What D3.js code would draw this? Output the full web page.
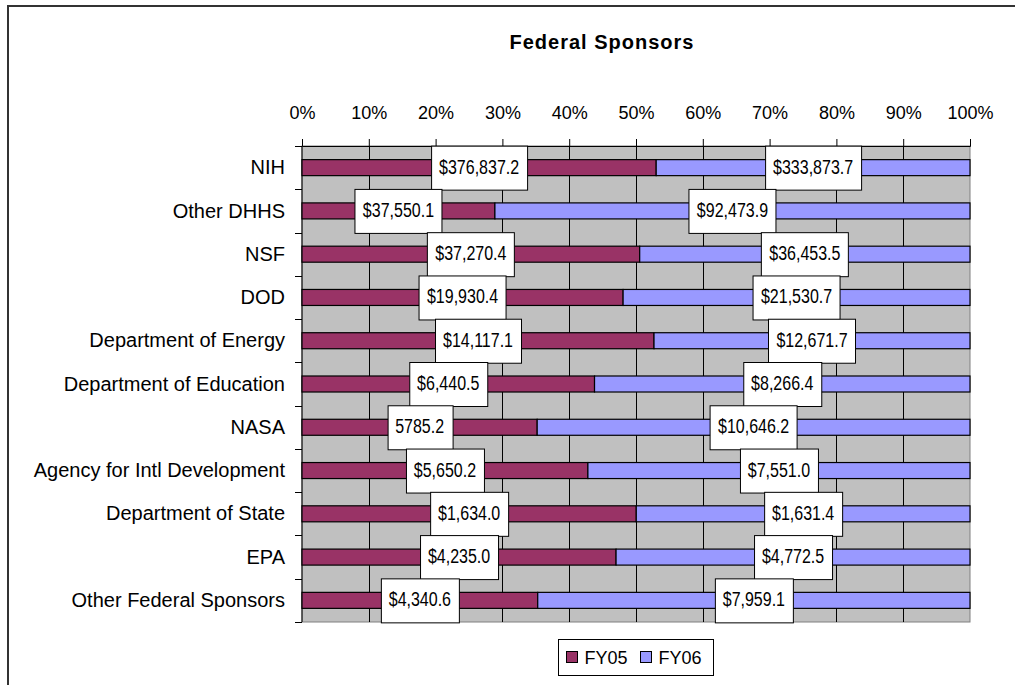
<!DOCTYPE html>
<html>
<head>
<meta charset="utf-8">
<script src="https://cdn.jsdelivr.net/npm/d3@7"></script>
<style>
  body { margin: 0; background: #fff; }
  svg { display: block; }
</style>
</head>
<body>
<div id="chart"></div>
<script>
// sponsors, top to bottom
var sponsors = ["NIH", "Other DHHS", "NSF", "DOD", "Department of Energy",
  "Department of Education", "NASA", "Agency for Intl Development",
  "Department of State", "EPA", "Other Federal Sponsors"];

// dollar amounts (thousands) per year
var fy05 = [376837.2, 37550.1, 37270.4, 19930.4, 14117.1, 6440.5, 5785.2, 5650.2, 1634.0, 4235.0, 4340.6];
var fy06 = [333873.7, 92473.9, 36453.5, 21530.7, 12671.7, 8266.4, 10646.2, 7551.0, 1631.4, 4772.5, 7959.1];

var seriesNames = ["FY05", "FY06"];
var tickValues = [0, 0.1, 0.2, 0.3, 0.4, 0.5, 0.6, 0.7, 0.8, 0.9, 1];

var W = 1015, H = 685;
var plot = { left: 302, right: 970, top: 146, bottom: 622 };
var colors = { FY05: "#993366", FY06: "#9999ff" };
var sans = "'Liberation Sans', Arial, sans-serif";

var svg = d3.select("#chart").append("svg")
  .attr("width", W)
  .attr("height", H);

// outer frame (only top and left edges are visible in the original)
svg.append("path")
  .attr("d", "M8," + H + "V6H" + W)
  .attr("fill", "none")
  .attr("stroke", "#333")
  .attr("stroke-width", 2);

var x = d3.scaleLinear().domain([0, 1]).range([plot.left, plot.right]);
var y = d3.scaleBand().domain(sponsors).range([plot.top, plot.bottom]);

var rows = sponsors.map(function(name, i) {
  var total = fy05[i] + fy06[i];
  return { name: name, a: fy05[i], b: fy06[i], pa: fy05[i] / total };
});

// plot background
svg.append("rect")
  .attr("x", plot.left).attr("y", plot.top)
  .attr("width", plot.right - plot.left).attr("height", plot.bottom - plot.top)
  .attr("fill", "#c0c0c0")
  .attr("stroke", "#808080");

// gridlines
svg.append("g")
  .selectAll("line")
  .data(tickValues.slice(1, -1))
  .enter().append("line")
  .attr("x1", function(d) { return Math.round(x(d)) + 0.5; })
  .attr("x2", function(d) { return Math.round(x(d)) + 0.5; })
  .attr("y1", plot.top).attr("y2", plot.bottom)
  .attr("stroke", "#000");

// top axis
var xAxis = d3.axisTop(x)
  .tickValues(tickValues)
  .tickFormat(d3.format(".0%"))
  .tickSize(7)
  .tickPadding(20);

svg.append("g")
  .attr("transform", "translate(0," + plot.top + ")")
  .call(xAxis)
  .call(function(g) {
    g.select(".domain").attr("stroke", "#000");
    g.selectAll(".tick line").attr("stroke", "#000");
    g.selectAll(".tick text")
      .attr("fill", "#000")
      .attr("font-family", sans)
      .attr("font-size", 18);
  });

// left axis: ticks at category boundaries
svg.append("line")
  .attr("x1", plot.left).attr("x2", plot.left)
  .attr("y1", plot.top).attr("y2", plot.bottom)
  .attr("stroke", "#000");

var boundaries = sponsors.map(function(s) { return y(s); }).concat([plot.bottom]);
svg.append("g")
  .selectAll("line")
  .data(boundaries)
  .enter().append("line")
  .attr("x1", plot.left - 7).attr("x2", plot.left)
  .attr("y1", function(d) { return Math.round(d) + 0.5; })
  .attr("y2", function(d) { return Math.round(d) + 0.5; })
  .attr("stroke", "#000");

svg.append("g")
  .selectAll("text")
  .data(sponsors)
  .enter().append("text")
  .attr("x", 285)
  .attr("y", function(d) { return y(d) + y.bandwidth() / 2; })
  .attr("dy", "0.33em")
  .attr("text-anchor", "end")
  .attr("font-family", sans)
  .attr("font-size", 20)
  .text(function(d) { return d; });

// bars
var barH = y.bandwidth() * 0.37;
var bars = svg.append("g");

bars.selectAll("rect.fy05")
  .data(rows)
  .enter().append("rect")
  .attr("class", "fy05")
  .attr("x", x(0))
  .attr("y", function(d) { return y(d.name) + (y.bandwidth() - barH) / 2; })
  .attr("width", function(d) { return x(d.pa) - x(0); })
  .attr("height", barH)
  .attr("fill", colors.FY05)
  .attr("stroke", "#000")
  .attr("stroke-width", 1.2);

bars.selectAll("rect.fy06")
  .data(rows)
  .enter().append("rect")
  .attr("class", "fy06")
  .attr("x", function(d) { return x(d.pa); })
  .attr("y", function(d) { return y(d.name) + (y.bandwidth() - barH) / 2; })
  .attr("width", function(d) { return x(1) - x(d.pa); })
  .attr("height", barH)
  .attr("fill", colors.FY06)
  .attr("stroke", "#000")
  .attr("stroke-width", 1.2);

// data labels (boxed, centred on each segment)
var money = d3.format("$,.1f");
function labelText(v, name, series) {
  // the original shows NASA's FY05 value unformatted
  if (name === "NASA" && series === "FY05") return d3.format(".1f")(v);
  return money(v);
}

var labels = [];
rows.forEach(function(d) {
  labels.push({ name: d.name, cx: (x(0) + x(d.pa)) / 2, text: labelText(d.a, d.name, "FY05") });
  labels.push({ name: d.name, cx: (x(d.pa) + x(1)) / 2, text: labelText(d.b, d.name, "FY06") });
});

var boxH = 44;
var narrow = 0.8; // squeeze Liberation Sans to look like Arial Narrow
var lg = svg.append("g").selectAll("g")
  .data(labels)
  .enter().append("g")
  .attr("transform", function(d) {
    return "translate(" + d.cx + "," + (y(d.name) + y.bandwidth() / 2) + ")";
  });

lg.append("rect").attr("class", "box");
lg.append("text")
  .attr("text-anchor", "middle")
  .attr("dy", "0.3em")
  .attr("transform", "scale(" + narrow + ",1)")
  .attr("font-family", sans)
  .attr("font-size", 20)
  .text(function(d) { return d.text; });

lg.each(function() {
  var g = d3.select(this);
  var w = g.select("text").node().getComputedTextLength() * narrow + 16;
  g.select("rect")
    .attr("x", Math.round(-w / 2) + 0.5)
    .attr("y", -boxH / 2 + 0.5)
    .attr("width", Math.round(w))
    .attr("height", boxH)
    .attr("fill", "#fff")
    .attr("stroke", "#000");
});

// title
svg.append("text")
  .attr("x", 602)
  .attr("y", 49)
  .attr("text-anchor", "middle")
  .attr("font-family", sans)
  .attr("font-weight", "bold")
  .attr("font-size", 20)
  .attr("letter-spacing", 1)
  .text("Federal Sponsors");

// legend
var legend = svg.append("g").attr("transform", "translate(558,639)");
legend.append("rect")
  .attr("x", 0.5).attr("y", 0.5)
  .attr("width", 155).attr("height", 36)
  .attr("fill", "#fff")
  .attr("stroke", "#000");

var item = legend.selectAll("g.item")
  .data(seriesNames)
  .enter().append("g")
  .attr("class", "item")
  .attr("transform", function(d, i) { return "translate(" + (8.5 + i * 74) + ",12.5)"; });

item.append("rect")
  .attr("width", 11).attr("height", 11)
  .attr("fill", function(d) { return colors[d]; })
  .attr("stroke", "#000");

item.append("text")
  .attr("x", 18)
  .attr("y", 6)
  .attr("dy", "0.35em")
  .attr("font-family", sans)
  .attr("font-size", 18)
  .text(function(d) { return d; });
</script>
</body>
</html>
